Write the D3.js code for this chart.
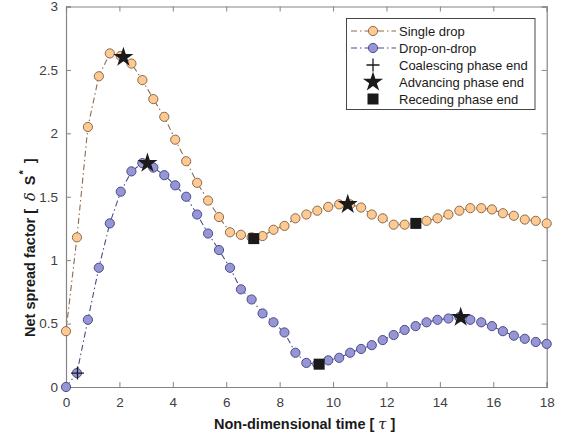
<!DOCTYPE html>
<html lang="en">
  <head>
    <meta charset="UTF-8" />
    <title>Net spread factor</title>
    <style>
      body { margin: 0; background: #fff; }
      text { font-family: "Liberation Sans", Arial, sans-serif; }
      .tick text { fill: #404040; font-size: 13.5px; }
    </style>
  </head>
  <body>
    <script src="https://cdn.jsdelivr.net/npm/d3@7"></script>
    <script>
    // time steps (shared by both series)
    var tau = [0, 0.41, 0.82, 1.23, 1.64, 2.05, 2.45, 2.86, 3.27, 3.68, 4.09, 4.5, 4.91, 5.32, 5.73,
               6.14, 6.55, 6.95, 7.36, 7.77, 8.18, 8.59, 9, 9.41, 9.82, 10.23, 10.64, 11.05, 11.45,
               11.86, 12.27, 12.68, 13.09, 13.5, 13.91, 14.32, 14.73, 15.14, 15.55, 15.95, 16.36,
               16.77, 17.18, 17.59, 18];

    var singleDrop = [0.44, 1.18, 2.05, 2.45, 2.63, 2.61, 2.55, 2.42, 2.27, 2.13, 1.95, 1.78, 1.61,
                      1.47, 1.34, 1.22, 1.2, 1.18, 1.19, 1.24, 1.27, 1.33, 1.36, 1.39, 1.42, 1.44,
                      1.44, 1.415, 1.36, 1.33, 1.28, 1.28, 1.29, 1.31, 1.33, 1.36, 1.39, 1.41, 1.41,
                      1.4, 1.37, 1.35, 1.32, 1.31, 1.29];

    var dropOnDrop = [0, 0.11, 0.53, 0.94, 1.29, 1.54, 1.7, 1.765, 1.73, 1.67, 1.59, 1.5, 1.36,
                      1.21, 1.08, 0.94, 0.77, 0.69, 0.58, 0.51, 0.43, 0.27, 0.19, 0.18, 0.21, 0.23,
                      0.27, 0.3, 0.33, 0.37, 0.41, 0.45, 0.48, 0.51, 0.53, 0.54, 0.55, 0.53, 0.51,
                      0.48, 0.44, 0.405, 0.38, 0.355, 0.34];

    // phase end markers [tau, value]
    var coalescing = [[0.43, 0.11]];
    var advancing = [[2.15, 2.6], [3.05, 1.765], [10.55, 1.44], [14.78, 0.55]];
    var receding = [[7.03, 1.17], [9.48, 0.18], [13.1, 1.29]];

    var xTicks = [0, 2, 4, 6, 8, 10, 12, 14, 16, 18];
    var yTicks = [0, 0.5, 1, 1.5, 2, 2.5, 3];

    var width = 563, height = 442;
    var plotLeft = 66, plotRight = 546.7, plotTop = 6.5, plotBottom = 387;

    var svg = d3.select("body").append("svg")
                .attr("width", width)
                .attr("height", height);

    var xScale = d3.scaleLinear().domain([0, 18]).range([plotLeft, plotRight]);
    var yScale = d3.scaleLinear().domain([0, 3]).range([plotBottom, plotTop]);

    var axisColor = "#858585";

    // box with inward ticks
    svg.append("g").attr("transform", "translate(0," + plotBottom + ")")
       .call(d3.axisBottom(xScale).tickValues(xTicks).tickSize(-5).tickPadding(10).tickFormat(d3.format("d")));
    svg.append("g").attr("transform", "translate(0," + plotTop + ")")
       .call(d3.axisTop(xScale).tickValues(xTicks).tickSize(-5).tickFormat(""));
    svg.append("g").attr("transform", "translate(" + plotLeft + ",0)")
       .call(d3.axisLeft(yScale).tickValues(yTicks).tickSize(-5).tickPadding(8).tickFormat(function(d) { return d; }));
    svg.append("g").attr("transform", "translate(" + plotRight + ",0)")
       .call(d3.axisRight(yScale).tickValues(yTicks).tickSize(-5).tickFormat(""));

    svg.selectAll(".domain").attr("stroke", axisColor).attr("stroke-width", 1.2);
    svg.selectAll(".tick line").attr("stroke", axisColor);

    var series = [
      { values: singleDrop, line: "#8c6b4b", fill: "#fec993", edge: "#8c6b4b" },
      { values: dropOnDrop, line: "#4b4b8f", fill: "#9696d4", edge: "#4b4b8f" }
    ];

    var line = d3.line()
                 .x(function(d, i) { return xScale(tau[i]); })
                 .y(function(d) { return yScale(d); });

    series.forEach(function(s) {
      svg.append("path")
         .datum(s.values)
         .attr("d", line)
         .attr("fill", "none")
         .attr("stroke", s.line)
         .attr("stroke-width", 1.1)
         .attr("stroke-dasharray", "6,3,1.5,3");
      svg.append("g").selectAll("circle")
         .data(s.values)
         .enter().append("circle")
         .attr("cx", function(d, i) { return xScale(tau[i]); })
         .attr("cy", function(d) { return yScale(d); })
         .attr("r", 4.6)
         .attr("fill", s.fill)
         .attr("stroke", s.edge)
         .attr("stroke-width", 1);
    });

    var star = d3.symbol().type(d3.symbolStar).size(125);

    function drawCross(g, x, y) {
      g.append("path")
       .attr("d", "M" + (x - 6.5) + "," + y + "H" + (x + 6.5) + "M" + x + "," + (y - 6.5) + "V" + (y + 6.5))
       .attr("stroke", "#1a1a1a").attr("stroke-width", 1.3).attr("fill", "none");
    }

    var marks = svg.append("g");
    coalescing.forEach(function(d) { drawCross(marks, xScale(d[0]), yScale(d[1])); });
    marks.selectAll(".star")
         .data(advancing)
         .enter().append("path")
         .attr("class", "star")
         .attr("d", star)
         .attr("transform", function(d) { return "translate(" + xScale(d[0]) + "," + yScale(d[1]) + ")"; })
         .attr("fill", "#1a1a1a");
    marks.selectAll(".sq")
         .data(receding)
         .enter().append("rect")
         .attr("class", "sq")
         .attr("x", function(d) { return xScale(d[0]) - 5.5; })
         .attr("y", function(d) { return yScale(d[1]) - 5.5; })
         .attr("width", 11)
         .attr("height", 11)
         .attr("fill", "#1a1a1a");

    // legend
    var lg = svg.append("g");
    lg.append("rect")
      .attr("x", 346.5).attr("y", 18.5).attr("width", 188.5).attr("height", 91)
      .attr("fill", "#fff").attr("stroke", "#333").attr("stroke-width", 0.9);

    var legendRows = ["Single drop", "Drop-on-drop", "Coalescing phase end", "Advancing phase end", "Receding phase end"];
    var rowY = [31, 48, 65, 82, 99];
    legendRows.forEach(function(name, i) {
      var y = rowY[i];
      lg.append("text").attr("x", 399).attr("y", y + 4.7)
        .attr("font-size", "13px").attr("fill", "#1a1a1a").text(name);
      var cx = 373;
      if (i < 2) {
        var s = series[i];
        lg.append("line").attr("x1", 351).attr("x2", 396).attr("y1", y).attr("y2", y)
          .attr("stroke", s.line).attr("stroke-width", 1.1).attr("stroke-dasharray", "6,3,1.5,3");
        lg.append("circle").attr("cx", cx).attr("cy", y).attr("r", 4.6)
          .attr("fill", s.fill).attr("stroke", s.edge);
      } else if (i == 2) {
        drawCross(lg, cx, y);
      } else if (i == 3) {
        lg.append("path").attr("d", star).attr("transform", "translate(" + cx + "," + y + ")").attr("fill", "#1a1a1a");
      } else {
        lg.append("rect").attr("x", cx - 5.5).attr("y", y - 5.5).attr("width", 11).attr("height", 11).attr("fill", "#1a1a1a");
      }
    });

    // axis labels
    var xl = svg.append("text")
                .attr("x", 214).attr("y", 429)
                .attr("font-size", "14.5px").attr("font-weight", "bold").attr("fill", "#1a1a1a");
    xl.append("tspan").text("Non-dimensional time [ ");
    xl.append("tspan").attr("font-style", "italic").attr("font-weight", "normal").attr("font-family", "DejaVu Serif").text("τ");
    xl.append("tspan").text(" ]");

    var yl = svg.append("text")
                .attr("transform", "translate(35,337) rotate(-90)")
                .attr("font-size", "14.5px").attr("font-weight", "bold").attr("fill", "#1a1a1a");
    yl.append("tspan").text("Net spread factor [");
    yl.append("tspan").attr("dx", 8).attr("font-style", "italic").attr("font-weight", "normal").attr("font-family", "DejaVu Serif").text("δ");
    yl.append("tspan").attr("dx", 7).text("S");
    yl.append("tspan").attr("dx", 1).attr("dy", -8).attr("font-size", "11px").text("*");
    yl.append("tspan").attr("dx", 7).attr("dy", 8).text("]");
    </script>
  </body>
</html>
